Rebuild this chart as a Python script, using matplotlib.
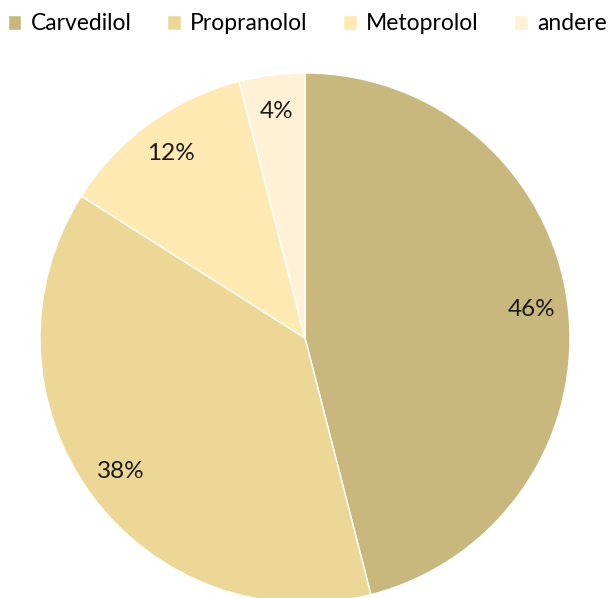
import matplotlib.pyplot as plt

plt.rcParams["font.family"] = ["Lato", "DejaVu Sans"]

drugs = ["Carvedilol", "Propranolol", "Metoprolol", "andere"]
shares = [46, 38, 12, 4]
colors = ["#C9B87E", "#EDD797", "#FFE9B3", "#FFF1D6"]

fig = plt.figure(figsize=(6.08, 5.98), dpi=100)
ax = fig.add_axes([40 / 608, -5 / 598, 530 / 608, 530 / 598])

wedges, texts, autotexts = ax.pie(
    shares,
    colors=colors,
    startangle=90,
    counterclock=False,
    autopct="%d%%",
    pctdistance=0.86,
    wedgeprops={"edgecolor": "white", "linewidth": 1},
    textprops={"fontsize": 17.5, "color": "#1a1a1a"},
)
ax.set_xlim(-1, 1)
ax.set_ylim(-1, 1)
ax.set_aspect("equal")

fig.legend(
    wedges,
    drugs,
    loc="upper center",
    bbox_to_anchor=(0.505, 1.012),
    ncol=4,
    frameon=False,
    fontsize=16.5,
    handlelength=0.6,
    handleheight=0.6,
    handletextpad=0.4,
    columnspacing=1.55,
)

fig.savefig("out.png", dpi=100)
